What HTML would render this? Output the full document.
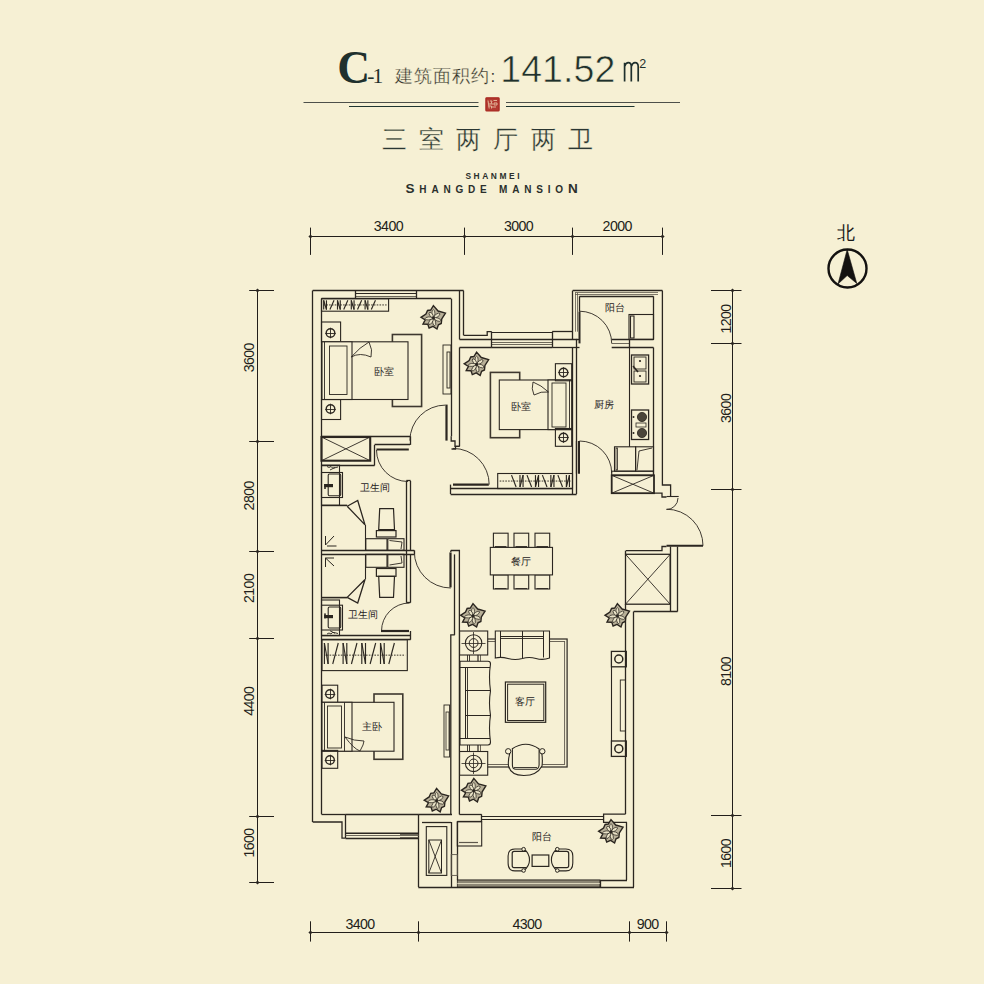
<!DOCTYPE html>
<html><head><meta charset="utf-8"><style>
html,body{margin:0;padding:0;background:#F6F0D4;}
svg{display:block;font-family:"Liberation Sans",sans-serif;}
</style></head><body>
<svg width="984" height="984" viewBox="0 0 984 984">
<rect width="984" height="984" fill="#F6F0D4"/>
<text x="337.2" y="83" font-family="Liberation Serif" font-size="45.5" fill="#1f302d" text-anchor="start" font-weight="bold">C</text>
<text x="367.3" y="82.5" font-family="Liberation Serif" font-size="21.5" fill="#1f302d" text-anchor="start" >-</text>
<text x="372.6" y="82.5" font-family="Liberation Serif" font-size="21.5" fill="#1f302d" text-anchor="start" >1</text>
<text x="395" y="81.6" font-family="Liberation Sans" font-size="17.5" fill="#2e2e2a" text-anchor="start" letter-spacing="1" stroke="#F6F0D4" stroke-width="0.3">建筑面积约</text>
<text x="490.5" y="81.6" font-family="Liberation Sans" font-size="17" fill="#3a3a35" text-anchor="start" font-weight="300">:</text>
<text x="500.2" y="81.6" font-family="Liberation Sans" font-size="37.5" fill="#1f302d" text-anchor="start" letter-spacing="0.1" stroke="#F6F0D4" stroke-width="0.6">141.52</text>
<path d="M624.6,81.6 V62.8 M624.6,66.5 Q625.8,62.6 628.3,62.6 Q631.3,62.6 631.3,66.5 V81.6 M631.3,66.5 Q632.5,62.6 635,62.6 Q638.2,62.6 638.2,66.5 V81.6" fill="none" stroke="#1f302d" stroke-width="1.7"/>
<text x="639.3" y="67.6" font-family="Liberation Sans" font-size="12.5" fill="#1f302d" text-anchor="start" >2</text>
<rect x="485.9" y="97.8" width="13.2" height="13.2" rx="0.8" fill="#b23a30" stroke="#a8261f" stroke-width="1.2"/>
<path d="M488,100.5 l1.2,8 M490,101 h2 l-1,3 h2 M493.5,100.5 h3.5 M494,103 h3 v2 h-3z M488.5,106 h3 v2.5 M492,107 h4 M489,104 h2" fill="none" stroke="#e6bfa0" stroke-width="0.9"/>
<line x1="303.5" y1="102.5" x2="478.5" y2="102.5" stroke="#4d504a" stroke-width="1.2"/>
<line x1="506" y1="102.5" x2="680" y2="102.5" stroke="#4d504a" stroke-width="1.2"/>
<line x1="349" y1="106.5" x2="478.5" y2="106.5" stroke="#1f3530" stroke-width="1.2"/>
<line x1="506" y1="106.5" x2="634.5" y2="106.5" stroke="#1f3530" stroke-width="1.2"/>
<text x="493.5" y="148.4" font-family="Liberation Sans" font-size="24.5" fill="#2a3633" text-anchor="middle" letter-spacing="12.2" stroke="#F6F0D4" stroke-width="0.3">三室两厅两卫</text>
<text x="493.8" y="179.2" font-family="Liberation Sans" font-size="8.4" fill="#2a2f2c" text-anchor="middle" font-weight="bold" letter-spacing="2.6">SHANMEI</text>
<text x="494" y="193.3" font-family="Liberation Sans" font-size="10" fill="#2a2f2c" text-anchor="middle" font-weight="bold" letter-spacing="4.8"><tspan font-size="13.5">S</tspan>HANGDE MANSIO<tspan font-size="13.5">N</tspan></text>
<text x="846.2" y="238.8" font-family="Liberation Sans" font-size="17.5" fill="#1a1a1a" text-anchor="middle" >北</text>
<circle cx="847.5" cy="268.5" r="19" fill="none" stroke="#141210" stroke-width="2.4"/>
<polygon points="847.2,249.5 838,284 847.2,275.5 856.8,283.5" fill="#141210" stroke="#141210" stroke-width="0.6"/>
<line x1="310.3" y1="236.5" x2="662" y2="236.5" stroke="#221e1a" stroke-width="1.0"/>
<line x1="310.5" y1="227.6" x2="310.5" y2="254.9" stroke="#221e1a" stroke-width="1.0"/>
<polygon points="308.4,236.5 310.5,234.4 312.6,236.5 310.5,238.6" fill="#2b2620"/>
<line x1="464.5" y1="227.6" x2="464.5" y2="254.9" stroke="#221e1a" stroke-width="1.0"/>
<polygon points="462.4,236.5 464.5,234.4 466.6,236.5 464.5,238.6" fill="#2b2620"/>
<line x1="572.5" y1="227.6" x2="572.5" y2="254.9" stroke="#221e1a" stroke-width="1.0"/>
<polygon points="570.4,236.5 572.5,234.4 574.6,236.5 572.5,238.6" fill="#2b2620"/>
<line x1="662.5" y1="227.6" x2="662.5" y2="254.9" stroke="#221e1a" stroke-width="1.0"/>
<polygon points="660.4,236.5 662.5,234.4 664.6,236.5 662.5,238.6" fill="#2b2620"/>
<text x="388.4" y="231.3" font-family="Liberation Sans" font-size="14.2" fill="#221e1a" text-anchor="middle" letter-spacing="-0.6">3400</text>
<text x="518.5" y="231.3" font-family="Liberation Sans" font-size="14.2" fill="#221e1a" text-anchor="middle" letter-spacing="-0.6">3000</text>
<text x="617.2" y="231.3" font-family="Liberation Sans" font-size="14.2" fill="#221e1a" text-anchor="middle" letter-spacing="-0.6">2000</text>
<line x1="310.3" y1="932.5" x2="666" y2="932.5" stroke="#221e1a" stroke-width="1.0"/>
<line x1="310.5" y1="921.3" x2="310.5" y2="941.6" stroke="#221e1a" stroke-width="1.0"/>
<polygon points="308.4,932.5 310.5,930.4 312.6,932.5 310.5,934.6" fill="#2b2620"/>
<line x1="418.5" y1="921.3" x2="418.5" y2="941.6" stroke="#221e1a" stroke-width="1.0"/>
<polygon points="416.4,932.5 418.5,930.4 420.6,932.5 418.5,934.6" fill="#2b2620"/>
<line x1="629.5" y1="921.3" x2="629.5" y2="941.6" stroke="#221e1a" stroke-width="1.0"/>
<polygon points="627.4,932.5 629.5,930.4 631.6,932.5 629.5,934.6" fill="#2b2620"/>
<line x1="666.5" y1="921.3" x2="666.5" y2="941.6" stroke="#221e1a" stroke-width="1.0"/>
<polygon points="664.4,932.5 666.5,930.4 668.6,932.5 666.5,934.6" fill="#2b2620"/>
<text x="360" y="929.3" font-family="Liberation Sans" font-size="14.2" fill="#221e1a" text-anchor="middle" letter-spacing="-0.6">3400</text>
<text x="527" y="929.3" font-family="Liberation Sans" font-size="14.2" fill="#221e1a" text-anchor="middle" letter-spacing="-0.6">4300</text>
<text x="647.7" y="929.3" font-family="Liberation Sans" font-size="14.2" fill="#221e1a" text-anchor="middle" letter-spacing="-0.6">900</text>
<line x1="257.5" y1="290.6" x2="257.5" y2="882.2" stroke="#221e1a" stroke-width="1.0"/>
<line x1="249.2" y1="290.5" x2="274" y2="290.5" stroke="#221e1a" stroke-width="1.0"/>
<polygon points="255.4,290.5 257.5,288.4 259.6,290.5 257.5,292.6" fill="#2b2620"/>
<line x1="249.2" y1="441.5" x2="274" y2="441.5" stroke="#221e1a" stroke-width="1.0"/>
<polygon points="255.4,441.5 257.5,439.4 259.6,441.5 257.5,443.6" fill="#2b2620"/>
<line x1="249.2" y1="551.5" x2="274" y2="551.5" stroke="#221e1a" stroke-width="1.0"/>
<polygon points="255.4,551.5 257.5,549.4 259.6,551.5 257.5,553.6" fill="#2b2620"/>
<line x1="249.2" y1="638.5" x2="274" y2="638.5" stroke="#221e1a" stroke-width="1.0"/>
<polygon points="255.4,638.5 257.5,636.4 259.6,638.5 257.5,640.6" fill="#2b2620"/>
<line x1="249.2" y1="816.5" x2="274" y2="816.5" stroke="#221e1a" stroke-width="1.0"/>
<polygon points="255.4,816.5 257.5,814.4 259.6,816.5 257.5,818.6" fill="#2b2620"/>
<line x1="249.2" y1="882.5" x2="274" y2="882.5" stroke="#221e1a" stroke-width="1.0"/>
<polygon points="255.4,882.5 257.5,880.4 259.6,882.5 257.5,884.6" fill="#2b2620"/>
<text transform="translate(254.2 357.7) rotate(-90)" x="0" y="0" font-family="Liberation Sans" font-size="14.2" fill="#221e1a" text-anchor="middle" letter-spacing="-0.6">3600</text>
<text transform="translate(254.2 495.8) rotate(-90)" x="0" y="0" font-family="Liberation Sans" font-size="14.2" fill="#221e1a" text-anchor="middle" letter-spacing="-0.6">2800</text>
<text transform="translate(254.2 588.4) rotate(-90)" x="0" y="0" font-family="Liberation Sans" font-size="14.2" fill="#221e1a" text-anchor="middle" letter-spacing="-0.6">2100</text>
<text transform="translate(254.2 701.2) rotate(-90)" x="0" y="0" font-family="Liberation Sans" font-size="14.2" fill="#221e1a" text-anchor="middle" letter-spacing="-0.6">4400</text>
<text transform="translate(254.2 843) rotate(-90)" x="0" y="0" font-family="Liberation Sans" font-size="14.2" fill="#221e1a" text-anchor="middle" letter-spacing="-0.6">1600</text>
<line x1="732.5" y1="290.5" x2="732.5" y2="888.5" stroke="#221e1a" stroke-width="1.0"/>
<line x1="711" y1="290.5" x2="741.5" y2="290.5" stroke="#221e1a" stroke-width="1.0"/>
<polygon points="730.4,290.5 732.5,288.4 734.6,290.5 732.5,292.6" fill="#2b2620"/>
<line x1="711" y1="343.5" x2="741.5" y2="343.5" stroke="#221e1a" stroke-width="1.0"/>
<polygon points="730.4,343.5 732.5,341.4 734.6,343.5 732.5,345.6" fill="#2b2620"/>
<line x1="711" y1="489.5" x2="741.5" y2="489.5" stroke="#221e1a" stroke-width="1.0"/>
<polygon points="730.4,489.5 732.5,487.4 734.6,489.5 732.5,491.6" fill="#2b2620"/>
<line x1="711" y1="815.5" x2="741.5" y2="815.5" stroke="#221e1a" stroke-width="1.0"/>
<polygon points="730.4,815.5 732.5,813.4 734.6,815.5 732.5,817.6" fill="#2b2620"/>
<line x1="711" y1="888.5" x2="741.5" y2="888.5" stroke="#221e1a" stroke-width="1.0"/>
<polygon points="730.4,888.5 732.5,886.4 734.6,888.5 732.5,890.6" fill="#2b2620"/>
<text transform="translate(730.5 319) rotate(-90)" x="0" y="0" font-family="Liberation Sans" font-size="14.2" fill="#221e1a" text-anchor="middle" letter-spacing="-0.6">1200</text>
<text transform="translate(730.5 408.4) rotate(-90)" x="0" y="0" font-family="Liberation Sans" font-size="14.2" fill="#221e1a" text-anchor="middle" letter-spacing="-0.6">3600</text>
<text transform="translate(730.5 671.5) rotate(-90)" x="0" y="0" font-family="Liberation Sans" font-size="14.2" fill="#221e1a" text-anchor="middle" letter-spacing="-0.6">8100</text>
<text transform="translate(730.5 853.5) rotate(-90)" x="0" y="0" font-family="Liberation Sans" font-size="14.2" fill="#221e1a" text-anchor="middle" letter-spacing="-0.6">1600</text>
<line x1="312.5" y1="290.6" x2="312.5" y2="822" stroke="#2b2620" stroke-width="1.3"/>
<line x1="321.5" y1="298.7" x2="321.5" y2="814.3" stroke="#2b2620" stroke-width="1.3"/>
<line x1="312.7" y1="290.5" x2="463.6" y2="290.5" stroke="#2b2620" stroke-width="1.3"/>
<line x1="321.5" y1="298.5" x2="451.2" y2="298.5" stroke="#2b2620" stroke-width="1.3"/>
<line x1="355.3" y1="293.5" x2="416.7" y2="293.5" stroke="#2b2620" stroke-width="1.1"/>
<line x1="355.3" y1="296.5" x2="416.7" y2="296.5" stroke="#5e584c" stroke-width="0.9"/>
<line x1="355.5" y1="290.6" x2="355.5" y2="298.7" stroke="#2b2620" stroke-width="1.3"/>
<line x1="416.5" y1="290.6" x2="416.5" y2="298.7" stroke="#2b2620" stroke-width="1.3"/>
<line x1="451.5" y1="298.7" x2="451.5" y2="436.3" stroke="#2b2620" stroke-width="1.3"/>
<line x1="459.5" y1="290.6" x2="459.5" y2="339.4" stroke="#2b2620" stroke-width="1.3"/>
<line x1="463.5" y1="290.6" x2="463.5" y2="335.3" stroke="#2b2620" stroke-width="1.3"/>
<line x1="459.5" y1="347.5" x2="459.5" y2="446.3" stroke="#2b2620" stroke-width="1.3"/>
<line x1="321.5" y1="436.5" x2="410" y2="436.5" stroke="#2b2620" stroke-width="1.3"/>
<line x1="374.6" y1="444.5" x2="410" y2="444.5" stroke="#2b2620" stroke-width="1.3"/>
<line x1="410.5" y1="436.3" x2="410.5" y2="444.9" stroke="#2b2620" stroke-width="1.3"/>
<line x1="374.5" y1="444.9" x2="374.5" y2="465.5" stroke="#2b2620" stroke-width="1.3"/>
<line x1="321.5" y1="465.5" x2="374.6" y2="465.5" stroke="#2b2620" stroke-width="1.3"/>
<rect x="321.5" y="437" width="48.70" height="23.70" fill="none" stroke="#2b2620" stroke-width="2.1"/>
<line x1="321.5" y1="437" x2="370.2" y2="460.7" stroke="#2b2620" stroke-width="0.9"/>
<line x1="321.5" y1="460.7" x2="370.2" y2="437" stroke="#2b2620" stroke-width="0.9"/>
<line x1="446.5" y1="404.6" x2="446.5" y2="440.6" stroke="#2b2620" stroke-width="2.2"/>
<path d="M445.40,405.10 A35.5,35.5 0 0 0 409.90,440.60" fill="none" stroke="#2b2620" stroke-width="0.9"/>
<polyline points="451.2,436.3 451.2,441 455,441 455,446.3 459.5,446.3" fill="none" stroke="#2b2620" stroke-width="1.3"/>
<line x1="376.5" y1="449.5" x2="408.8" y2="449.5" stroke="#2b2620" stroke-width="2.2"/>
<path d="M376.50,450.00 A31.5,31.5 0 0 0 408.00,481.50" fill="none" stroke="#2b2620" stroke-width="0.9"/>
<line x1="406.5" y1="480.9" x2="406.5" y2="602.6" stroke="#2b2620" stroke-width="1.3"/>
<line x1="410.5" y1="480.9" x2="410.5" y2="550.5" stroke="#2b2620" stroke-width="1.3"/>
<line x1="410.5" y1="554.4" x2="410.5" y2="602.6" stroke="#2b2620" stroke-width="1.3"/>
<line x1="406.3" y1="480.5" x2="410.6" y2="480.5" stroke="#2b2620" stroke-width="1.3"/>
<line x1="321.5" y1="550.5" x2="414.3" y2="550.5" stroke="#2b2620" stroke-width="1.3"/>
<line x1="321.5" y1="554.5" x2="414.3" y2="554.5" stroke="#2b2620" stroke-width="1.3"/>
<line x1="414.5" y1="550.3" x2="414.5" y2="554.3" stroke="#2b2620" stroke-width="1.3"/>
<line x1="450.5" y1="552.4" x2="450.5" y2="587.4" stroke="#2b2620" stroke-width="2.2"/>
<path d="M450.80,588.00 A36.5,36.5 0 0 1 414.30,551.50" fill="none" stroke="#2b2620" stroke-width="0.9"/>
<polyline points="450.8,550.5 459.4,550.5 459.4,814.6" fill="none" stroke="#2b2620" stroke-width="1.3"/>
<polyline points="450.8,552 450.8,550.5" fill="none" stroke="#2b2620" stroke-width="1.3"/>
<line x1="454.5" y1="554.4" x2="454.5" y2="634.9" stroke="#2b2620" stroke-width="1.3"/>
<polyline points="454.8,634.9 450.8,634.9 450.8,814.3" fill="none" stroke="#2b2620" stroke-width="1.3"/>
<line x1="381" y1="631" x2="409" y2="631" stroke="#2b2620" stroke-width="2.2"/>
<path d="M381.50,631.00 A28,28 0 0 1 409.50,603.00" fill="none" stroke="#2b2620" stroke-width="0.9"/>
<line x1="406.3" y1="602.5" x2="410.6" y2="602.5" stroke="#2b2620" stroke-width="1.3"/>
<line x1="410.5" y1="631" x2="410.5" y2="639.7" stroke="#2b2620" stroke-width="1.3"/>
<line x1="321.5" y1="635.5" x2="410.6" y2="635.5" stroke="#2b2620" stroke-width="1.3"/>
<line x1="321.5" y1="639.5" x2="410.6" y2="639.5" stroke="#2b2620" stroke-width="1.3"/>
<line x1="321.5" y1="814.5" x2="345.5" y2="814.5" stroke="#2b2620" stroke-width="1.3"/>
<line x1="418.7" y1="814.5" x2="452" y2="814.5" stroke="#2b2620" stroke-width="1.3"/>
<polyline points="312.7,822 342,822 342,838.2 345.5,838.2" fill="none" stroke="#2b2620" stroke-width="1.3"/>
<line x1="345.5" y1="814.3" x2="345.5" y2="838.2" stroke="#2b2620" stroke-width="1.3"/>
<line x1="418.5" y1="814.3" x2="418.5" y2="838.2" stroke="#2b2620" stroke-width="1.3"/>
<line x1="345.5" y1="833.3" x2="418.7" y2="833.3" stroke="#2b2620" stroke-width="1.6"/>
<line x1="345.5" y1="835.5" x2="418.7" y2="835.5" stroke="#5e584c" stroke-width="0.9"/>
<line x1="345.5" y1="838.5" x2="418.7" y2="838.5" stroke="#2b2620" stroke-width="1.3"/>
<line x1="400" y1="834.5" x2="418.3" y2="834.5" stroke="#5e584c" stroke-width="0.9"/>
<line x1="400" y1="837.5" x2="418.3" y2="837.5" stroke="#5e584c" stroke-width="0.9"/>
<line x1="345.5" y1="814.5" x2="418.7" y2="814.5" stroke="#2b2620" stroke-width="1.3"/>
<line x1="418.5" y1="838" x2="418.5" y2="887" stroke="#2b2620" stroke-width="1.3"/>
<line x1="418.3" y1="887.5" x2="634" y2="887.5" stroke="#2b2620" stroke-width="1.3"/>
<line x1="451.5" y1="822" x2="451.5" y2="887" stroke="#2b2620" stroke-width="1.3"/>
<line x1="422" y1="822.5" x2="451.2" y2="822.5" stroke="#2b2620" stroke-width="1.3"/>
<line x1="457.5" y1="821.7" x2="457.5" y2="880" stroke="#2b2620" stroke-width="1.3"/>
<rect x="426.3" y="826.6" width="20.50" height="48.80" fill="none" stroke="#2b2620" stroke-width="1.1"/>
<rect x="428.8" y="840" width="12.70" height="33.00" fill="none" stroke="#2b2620" stroke-width="1.0"/>
<line x1="428.8" y1="840" x2="441.5" y2="873" stroke="#2b2620" stroke-width="0.9"/>
<line x1="428.8" y1="873" x2="441.5" y2="840" stroke="#2b2620" stroke-width="0.9"/>
<rect x="451.2" y="854.6" width="6.10" height="20.80" fill="none" stroke="#5e584c" stroke-width="0.9"/>
<line x1="459.4" y1="814.5" x2="481.7" y2="814.5" stroke="#2b2620" stroke-width="1.3"/>
<line x1="457.3" y1="821.5" x2="481.7" y2="821.5" stroke="#2b2620" stroke-width="1.3"/>
<line x1="457.3" y1="880.5" x2="627" y2="880.5" stroke="#2b2620" stroke-width="1.3"/>
<rect x="457.3" y="880" width="142.70" height="7.00" fill="#8c8674" stroke="#2b2620" stroke-width="0.8"/>
<line x1="457.3" y1="883.5" x2="600" y2="883.5" stroke="#efe8cc" stroke-width="0.8"/>
<line x1="600.5" y1="880" x2="600.5" y2="887" stroke="#2b2620" stroke-width="1.3"/>
<line x1="626.5" y1="822.3" x2="626.5" y2="880" stroke="#2b2620" stroke-width="1.3"/>
<line x1="633.5" y1="611.5" x2="633.5" y2="887" stroke="#2b2620" stroke-width="1.3"/>
<line x1="625.5" y1="604.2" x2="625.5" y2="814.1" stroke="#2b2620" stroke-width="1.3"/>
<polyline points="625.5,814.1 603.6,814.1 603.6,822.3 627,822.3" fill="none" stroke="#2b2620" stroke-width="1.3"/>
<line x1="481.7" y1="816.5" x2="603.7" y2="816.5" stroke="#2b2620" stroke-width="1.1"/>
<line x1="481.7" y1="819.5" x2="603.7" y2="819.5" stroke="#2b2620" stroke-width="1.1"/>
<line x1="481.5" y1="814.4" x2="481.5" y2="821.7" stroke="#2b2620" stroke-width="1.3"/>
<rect x="625.5" y="554.3" width="44.70" height="49.90" fill="none" stroke="#2b2620" stroke-width="1.3"/>
<line x1="625.5" y1="554.3" x2="670.2" y2="604.2" stroke="#2b2620" stroke-width="0.9"/>
<line x1="625.5" y1="604.2" x2="670.2" y2="554.3" stroke="#2b2620" stroke-width="0.9"/>
<polyline points="654,493.2 662,493.2 662,497 666.5,497" fill="none" stroke="#2b2620" stroke-width="1.3"/>
<polyline points="626,550.6 662,550.6 662,546.5 666.5,546.5" fill="none" stroke="#2b2620" stroke-width="1.3"/>
<line x1="670.5" y1="546.5" x2="670.5" y2="611.5" stroke="#2b2620" stroke-width="1.3"/>
<line x1="677.5" y1="546.5" x2="677.5" y2="611.5" stroke="#2b2620" stroke-width="1.3"/>
<line x1="633.7" y1="611.5" x2="677.6" y2="611.5" stroke="#2b2620" stroke-width="1.3"/>
<line x1="625.5" y1="550.6" x2="625.5" y2="554.3" stroke="#2b2620" stroke-width="1.3"/>
<line x1="666.5" y1="545.7" x2="703" y2="545.7" stroke="#2b2620" stroke-width="2.0"/>
<path d="M666.50,509.20 A36.5,36.5 0 0 1 703.00,545.70" fill="none" stroke="#2b2620" stroke-width="0.9"/>
<path d="M678.00,498.00 A11.5,11.5 0 0 1 666.50,509.50" fill="none" stroke="#2b2620" stroke-width="0.9"/>
<line x1="666.5" y1="496.5" x2="678.7" y2="496.5" stroke="#2b2620" stroke-width="1.1"/>
<polyline points="662.4,290.6 662.4,485 670.6,485 670.6,496.4" fill="none" stroke="#2b2620" stroke-width="1.3"/>
<line x1="653.5" y1="347.5" x2="653.5" y2="475.3" stroke="#2b2620" stroke-width="1.3"/>
<line x1="572.5" y1="347.5" x2="572.5" y2="494" stroke="#2b2620" stroke-width="1.3"/>
<line x1="450.6" y1="488.5" x2="572.5" y2="488.5" stroke="#2b2620" stroke-width="1.3"/>
<line x1="450.6" y1="494.5" x2="576.6" y2="494.5" stroke="#2b2620" stroke-width="1.3"/>
<line x1="450.5" y1="484.6" x2="450.5" y2="494" stroke="#2b2620" stroke-width="1.3"/>
<line x1="576.5" y1="339.4" x2="576.5" y2="494" stroke="#2b2620" stroke-width="1.3"/>
<polyline points="463.6,335.3 487.2,335.3 487.2,331.7 491.7,331.7" fill="none" stroke="#2b2620" stroke-width="1.3"/>
<line x1="459.5" y1="339.5" x2="577.4" y2="339.5" stroke="#2b2620" stroke-width="1.3"/>
<line x1="459.5" y1="347.5" x2="491.7" y2="347.5" stroke="#2b2620" stroke-width="1.3"/>
<line x1="552.2" y1="347.5" x2="576.3" y2="347.5" stroke="#2b2620" stroke-width="1.3"/>
<line x1="491.7" y1="332.5" x2="552.2" y2="332.5" stroke="#2b2620" stroke-width="1.1"/>
<line x1="491.7" y1="342.5" x2="552.2" y2="342.5" stroke="#5e584c" stroke-width="0.9"/>
<line x1="491.7" y1="344.5" x2="552.2" y2="344.5" stroke="#5e584c" stroke-width="0.9"/>
<line x1="491.7" y1="347.5" x2="552.2" y2="347.5" stroke="#2b2620" stroke-width="1.3"/>
<line x1="491.5" y1="331.7" x2="491.5" y2="347.5" stroke="#2b2620" stroke-width="1.3"/>
<line x1="552.5" y1="331.7" x2="552.5" y2="347.5" stroke="#2b2620" stroke-width="1.3"/>
<line x1="552.2" y1="331.5" x2="572.7" y2="331.5" stroke="#2b2620" stroke-width="1.3"/>
<line x1="572.5" y1="290.6" x2="572.5" y2="339.4" stroke="#2b2620" stroke-width="1.3"/>
<line x1="572.7" y1="290.5" x2="662.4" y2="290.5" stroke="#2b2620" stroke-width="1.3"/>
<line x1="579.5" y1="296.5" x2="653.5" y2="296.5" stroke="#2b2620" stroke-width="1.3"/>
<line x1="653.5" y1="296.3" x2="653.5" y2="339.4" stroke="#2b2620" stroke-width="1.3"/>
<line x1="575.5" y1="292.6" x2="575.5" y2="331.7" stroke="#5e584c" stroke-width="0.8"/>
<line x1="577.5" y1="292.6" x2="577.5" y2="331.7" stroke="#5e584c" stroke-width="0.8"/>
<line x1="575" y1="292.5" x2="658" y2="292.5" stroke="#5e584c" stroke-width="0.8"/>
<line x1="575" y1="294.5" x2="658" y2="294.5" stroke="#5e584c" stroke-width="0.8"/>
<line x1="579.5" y1="296.3" x2="579.5" y2="311.7" stroke="#2b2620" stroke-width="1.3"/>
<line x1="611.7" y1="339.5" x2="653.5" y2="339.5" stroke="#2b2620" stroke-width="1.3"/>
<line x1="611.7" y1="347.5" x2="653.5" y2="347.5" stroke="#2b2620" stroke-width="1.3"/>
<line x1="611.7" y1="343.5" x2="629" y2="343.5" stroke="#5e584c" stroke-width="0.9"/>
<line x1="629.5" y1="339.4" x2="629.5" y2="347.5" stroke="#2b2620" stroke-width="1.3"/>
<line x1="579.5" y1="311.7" x2="579.5" y2="343.4" stroke="#2b2620" stroke-width="2.0"/>
<path d="M579.50,311.20 A32.2,32.2 0 0 1 611.70,343.40" fill="none" stroke="#2b2620" stroke-width="0.9"/>
<line x1="576.3" y1="339.5" x2="579.5" y2="339.5" stroke="#2b2620" stroke-width="1.3"/>
<line x1="576.3" y1="347.5" x2="579.5" y2="347.5" stroke="#2b2620" stroke-width="1.3"/>
<line x1="453" y1="484.6" x2="488.8" y2="484.6" stroke="#2b2620" stroke-width="2.2"/>
<path d="M453.00,448.40 A36.2,36.2 0 0 1 489.20,484.60" fill="none" stroke="#2b2620" stroke-width="0.9"/>
<polyline points="459.5,446.3 455.5,446.3 455.5,449 451.5,449" fill="none" stroke="#2b2620" stroke-width="1.3"/>
<line x1="579" y1="441" x2="579" y2="473.7" stroke="#2b2620" stroke-width="2.0"/>
<path d="M579.50,441.00 A32.2,32.2 0 0 1 611.70,473.20" fill="none" stroke="#2b2620" stroke-width="0.9"/>
<line x1="576.5" y1="441" x2="576.5" y2="473.7" stroke="#2b2620" stroke-width="1.3"/>
<rect x="321.5" y="298.7" width="67.10" height="12.50" fill="none" stroke="#2b2620" stroke-width="1.1"/>
<line x1="323.5" y1="304.95" x2="386.6" y2="304.95" stroke="#3a342c" stroke-width="1" stroke-dasharray="1.6,1.2"/>
<line x1="323.70" y1="300.30" x2="323.70" y2="309.60" stroke="#2b2620" stroke-width="1.15"/>
<line x1="323.70" y1="300.30" x2="326.46" y2="309.60" stroke="#2b2620" stroke-width="1.15"/>
<line x1="326.46" y1="300.30" x2="326.46" y2="309.60" stroke="#2b2620" stroke-width="1.15"/>
<line x1="329.91" y1="309.60" x2="334.05" y2="300.30" stroke="#2b2620" stroke-width="1.15"/>
<line x1="337.50" y1="300.30" x2="337.50" y2="309.60" stroke="#2b2620" stroke-width="1.15"/>
<line x1="337.50" y1="300.30" x2="340.26" y2="309.60" stroke="#2b2620" stroke-width="1.15"/>
<line x1="340.26" y1="300.30" x2="340.26" y2="309.60" stroke="#2b2620" stroke-width="1.15"/>
<line x1="343.71" y1="309.60" x2="347.85" y2="300.30" stroke="#2b2620" stroke-width="1.15"/>
<line x1="351.30" y1="300.30" x2="351.30" y2="309.60" stroke="#2b2620" stroke-width="1.15"/>
<line x1="351.30" y1="300.30" x2="354.06" y2="309.60" stroke="#2b2620" stroke-width="1.15"/>
<line x1="354.06" y1="300.30" x2="354.06" y2="309.60" stroke="#2b2620" stroke-width="1.15"/>
<line x1="357.51" y1="309.60" x2="361.65" y2="300.30" stroke="#2b2620" stroke-width="1.15"/>
<line x1="365.10" y1="300.30" x2="365.10" y2="309.60" stroke="#2b2620" stroke-width="1.15"/>
<line x1="365.10" y1="300.30" x2="367.86" y2="309.60" stroke="#2b2620" stroke-width="1.15"/>
<line x1="367.86" y1="300.30" x2="367.86" y2="309.60" stroke="#2b2620" stroke-width="1.15"/>
<line x1="371.31" y1="309.60" x2="375.45" y2="300.30" stroke="#2b2620" stroke-width="1.15"/>
<rect x="321.5" y="322" width="19.10" height="20.00" fill="none" stroke="#2b2620" stroke-width="1.1"/>
<circle cx="330.5" cy="333" r="4.3" fill="none" stroke="#2b2620" stroke-width="1.4"/>
<line x1="325.2" y1="333.5" x2="335.8" y2="333.5" stroke="#2b2620" stroke-width="0.9"/>
<line x1="330.5" y1="327.7" x2="330.5" y2="338.3" stroke="#2b2620" stroke-width="0.9"/>
<rect x="321.5" y="399.5" width="19.10" height="20.00" fill="none" stroke="#2b2620" stroke-width="1.1"/>
<circle cx="330.5" cy="409" r="4.3" fill="none" stroke="#2b2620" stroke-width="1.4"/>
<line x1="325.2" y1="409.5" x2="335.8" y2="409.5" stroke="#2b2620" stroke-width="0.9"/>
<line x1="330.5" y1="403.7" x2="330.5" y2="414.3" stroke="#2b2620" stroke-width="0.9"/>
<rect x="392.4" y="334.5" width="29.20" height="72.00" fill="none" stroke="#3e382f" stroke-width="1.6"/>
<rect x="322" y="341.8" width="86.00" height="57.70" fill="#F6F0D4" stroke="#2b2620" stroke-width="1.1"/>
<rect x="322" y="341.8" width="30.00" height="57.70" fill="#F6F0D4" stroke="#2b2620" stroke-width="1.1"/>
<rect x="329.5" y="346" width="17.50" height="48.50" fill="none" stroke="#2b2620" stroke-width="0.9"/>
<line x1="324.5" y1="341.8" x2="324.5" y2="399.5" stroke="#2b2620" stroke-width="0.9"/>
<path d="M351.2,357 Q360,347 369,342 Q373,350 371,357 Q360,352 351.2,357z" fill="none" stroke="#2b2620" stroke-width="0.9"/>
<text x="384" y="375.4" font-family="Liberation Sans, sans-serif" font-size="9.5" fill="#26221d" text-anchor="middle">卧室</text>
<rect x="443" y="345" width="8.00" height="49.00" fill="none" stroke="#2b2620" stroke-width="0.9"/>
<rect x="447" y="352" width="3.00" height="36.00" fill="none" stroke="#2b2620" stroke-width="0.9"/>
<polygon points="433.4,305.6 438.1,311.04 445.45,313.13 441.75,318.95 441.26,323.51 438.4,324.75 436.98,329.03 433.03,326.39 429.1,328.13 427.83,324.29 423.01,324.0 425.23,319.96 421.02,317.35 425.95,314.12 427.55,310.51 430.67,310.06" fill="#b8b098" stroke="#2a251f" stroke-width="1.4"/>
<ellipse cx="433.40" cy="313.32" rx="3.57" ry="1.50" transform="rotate(-90.0 433.40 313.32)" fill="#e9e2c6" stroke="#2a251f" stroke-width="0.7"/>
<ellipse cx="437.00" cy="315.48" rx="3.36" ry="1.50" transform="rotate(-35.0 437.00 315.48)" fill="#e9e2c6" stroke="#2a251f" stroke-width="0.7"/>
<ellipse cx="437.53" cy="319.50" rx="3.36" ry="1.50" transform="rotate(20.0 437.53 319.50)" fill="#e9e2c6" stroke="#2a251f" stroke-width="0.7"/>
<ellipse cx="434.16" cy="322.33" rx="3.36" ry="1.50" transform="rotate(80.0 434.16 322.33)" fill="#e9e2c6" stroke="#2a251f" stroke-width="0.7"/>
<ellipse cx="430.88" cy="321.60" rx="3.36" ry="1.50" transform="rotate(125.0 430.88 321.60)" fill="#e9e2c6" stroke="#2a251f" stroke-width="0.7"/>
<ellipse cx="428.74" cy="318.41" rx="3.57" ry="1.50" transform="rotate(175.0 428.74 318.41)" fill="#e9e2c6" stroke="#2a251f" stroke-width="0.7"/>
<ellipse cx="431.19" cy="314.85" rx="2.94" ry="1.50" transform="rotate(235.0 431.19 314.85)" fill="#e9e2c6" stroke="#2a251f" stroke-width="0.7"/>
<circle cx="433.4" cy="318" r="1.4" fill="#2a251f"/>
<rect x="490.4" y="372.4" width="29.30" height="65.30" fill="none" stroke="#3e382f" stroke-width="1.6"/>
<rect x="499.3" y="380" width="72.40" height="49.60" fill="#F6F0D4" stroke="#2b2620" stroke-width="1.1"/>
<rect x="548" y="380" width="23.70" height="49.60" fill="#F6F0D4" stroke="#2b2620" stroke-width="1.1"/>
<rect x="552" y="383" width="14.00" height="44.00" fill="none" stroke="#2b2620" stroke-width="0.9"/>
<line x1="569.5" y1="380" x2="569.5" y2="429.6" stroke="#2b2620" stroke-width="0.9"/>
<path d="M548.5,392 Q541,385 533,382 Q531,389 534,395 Q541,391 548.5,392z" fill="none" stroke="#2b2620" stroke-width="0.9"/>
<rect x="555.4" y="363.7" width="16.30" height="17.10" fill="none" stroke="#2b2620" stroke-width="1.1"/>
<circle cx="563.5" cy="372.5" r="4.3" fill="none" stroke="#2b2620" stroke-width="1.4"/>
<line x1="558.2" y1="372.5" x2="568.8" y2="372.5" stroke="#2b2620" stroke-width="0.9"/>
<line x1="563.5" y1="367.2" x2="563.5" y2="377.8" stroke="#2b2620" stroke-width="0.9"/>
<rect x="555.4" y="428.5" width="16.30" height="17.80" fill="none" stroke="#2b2620" stroke-width="1.1"/>
<circle cx="563.5" cy="437.5" r="4.3" fill="none" stroke="#2b2620" stroke-width="1.4"/>
<line x1="558.2" y1="437.5" x2="568.8" y2="437.5" stroke="#2b2620" stroke-width="0.9"/>
<line x1="563.5" y1="432.2" x2="563.5" y2="442.8" stroke="#2b2620" stroke-width="0.9"/>
<rect x="497.7" y="473.5" width="74.80" height="15.10" fill="none" stroke="#2b2620" stroke-width="1.1"/>
<line x1="499.7" y1="481.05" x2="570.5" y2="481.05" stroke="#3a342c" stroke-width="1" stroke-dasharray="1.6,1.2"/>
<line x1="523.05" y1="475.10" x2="523.05" y2="487.00" stroke="#2b2620" stroke-width="1.15"/>
<line x1="523.05" y1="475.10" x2="519.97" y2="487.00" stroke="#2b2620" stroke-width="1.15"/>
<line x1="519.97" y1="475.10" x2="519.97" y2="487.00" stroke="#2b2620" stroke-width="1.15"/>
<line x1="516.12" y1="487.00" x2="511.50" y2="475.10" stroke="#2b2620" stroke-width="1.15"/>
<line x1="538.55" y1="475.10" x2="538.55" y2="487.00" stroke="#2b2620" stroke-width="1.15"/>
<line x1="538.55" y1="475.10" x2="535.47" y2="487.00" stroke="#2b2620" stroke-width="1.15"/>
<line x1="535.47" y1="475.10" x2="535.47" y2="487.00" stroke="#2b2620" stroke-width="1.15"/>
<line x1="531.62" y1="487.00" x2="527.00" y2="475.10" stroke="#2b2620" stroke-width="1.15"/>
<line x1="553.95" y1="475.10" x2="553.95" y2="487.00" stroke="#2b2620" stroke-width="1.15"/>
<line x1="553.95" y1="475.10" x2="550.87" y2="487.00" stroke="#2b2620" stroke-width="1.15"/>
<line x1="550.87" y1="475.10" x2="550.87" y2="487.00" stroke="#2b2620" stroke-width="1.15"/>
<line x1="547.02" y1="487.00" x2="542.40" y2="475.10" stroke="#2b2620" stroke-width="1.15"/>
<line x1="569.45" y1="475.10" x2="569.45" y2="487.00" stroke="#2b2620" stroke-width="1.15"/>
<line x1="569.45" y1="475.10" x2="566.37" y2="487.00" stroke="#2b2620" stroke-width="1.15"/>
<line x1="566.37" y1="475.10" x2="566.37" y2="487.00" stroke="#2b2620" stroke-width="1.15"/>
<line x1="562.52" y1="487.00" x2="557.90" y2="475.10" stroke="#2b2620" stroke-width="1.15"/>
<text x="520.8" y="410.2" font-family="Liberation Sans, sans-serif" font-size="9.5" fill="#26221d" text-anchor="middle">卧室</text>
<polygon points="476.6,352.1 481.3,357.54 488.65,359.63 484.95,365.45 484.46,370.01 481.6,371.25 480.18,375.53 476.23,372.89 472.3,374.63 471.03,370.79 466.21,370.5 468.43,366.46 464.22,363.85 469.15,360.62 470.75,357.01 473.87,356.56" fill="#b8b098" stroke="#2a251f" stroke-width="1.4"/>
<ellipse cx="476.60" cy="359.82" rx="3.57" ry="1.50" transform="rotate(-90.0 476.60 359.82)" fill="#e9e2c6" stroke="#2a251f" stroke-width="0.7"/>
<ellipse cx="480.20" cy="361.98" rx="3.36" ry="1.50" transform="rotate(-35.0 480.20 361.98)" fill="#e9e2c6" stroke="#2a251f" stroke-width="0.7"/>
<ellipse cx="480.73" cy="366.00" rx="3.36" ry="1.50" transform="rotate(20.0 480.73 366.00)" fill="#e9e2c6" stroke="#2a251f" stroke-width="0.7"/>
<ellipse cx="477.36" cy="368.83" rx="3.36" ry="1.50" transform="rotate(80.0 477.36 368.83)" fill="#e9e2c6" stroke="#2a251f" stroke-width="0.7"/>
<ellipse cx="474.08" cy="368.10" rx="3.36" ry="1.50" transform="rotate(125.0 474.08 368.10)" fill="#e9e2c6" stroke="#2a251f" stroke-width="0.7"/>
<ellipse cx="471.94" cy="364.91" rx="3.57" ry="1.50" transform="rotate(175.0 471.94 364.91)" fill="#e9e2c6" stroke="#2a251f" stroke-width="0.7"/>
<ellipse cx="474.39" cy="361.35" rx="2.94" ry="1.50" transform="rotate(235.0 474.39 361.35)" fill="#e9e2c6" stroke="#2a251f" stroke-width="0.7"/>
<circle cx="476.6" cy="364.5" r="1.4" fill="#2a251f"/>
<rect x="629" y="314.5" width="24.50" height="24.90" fill="none" stroke="#2b2620" stroke-width="1.1"/>
<rect x="630.5" y="316" width="3.50" height="22.00" fill="none" stroke="#2b2620" stroke-width="1.1"/>
<line x1="629.5" y1="347.5" x2="629.5" y2="446.8" stroke="#2b2620" stroke-width="1.1"/>
<rect x="631.5" y="355" width="17.10" height="29.00" fill="none" stroke="#2b2620" stroke-width="1.3"/>
<rect x="634" y="357" width="12.00" height="12.00" fill="none" stroke="#2b2620" stroke-width="0.9"/>
<rect x="634" y="371" width="12.00" height="11.00" fill="none" stroke="#2b2620" stroke-width="0.9"/>
<circle cx="640" cy="361" r="1.1" fill="#2b2620"/><circle cx="640" cy="376" r="1.1" fill="#2b2620"/>
<line x1="633" y1="366" x2="638" y2="372" stroke="#2b2620" stroke-width="1.5"/>
<rect x="631.5" y="410" width="17.10" height="29.50" fill="none" stroke="#2b2620" stroke-width="1.3"/>
<circle cx="642" cy="417" r="4.6" fill="#4a443a" stroke="#2b2620" stroke-width="0.8"/><circle cx="642" cy="433" r="4.6" fill="#4a443a" stroke="#2b2620" stroke-width="0.8"/>
<rect x="636" y="423" width="10.00" height="4.00" fill="none" stroke="#2b2620" stroke-width="0.8"/>
<circle cx="633.5" cy="417" r="1" fill="#2b2620"/><circle cx="633.5" cy="433" r="1" fill="#2b2620"/>
<rect x="614.5" y="446.8" width="21.10" height="24.40" fill="none" stroke="#2b2620" stroke-width="1.1"/>
<rect x="616" y="448" width="1.60" height="22.00" fill="none" stroke="#2b2620" stroke-width="0.8"/>
<rect x="635.6" y="446.8" width="17.90" height="24.40" fill="none" stroke="#2b2620" stroke-width="1.1"/>
<polyline points="652,448 639,451 637,470" fill="none" stroke="#2b2620" stroke-width="0.9"/>
<rect x="611.7" y="471.2" width="41.80" height="4.10" fill="none" stroke="#2b2620" stroke-width="1.1"/>
<rect x="611.7" y="475.3" width="42.30" height="17.90" fill="none" stroke="#2b2620" stroke-width="1.8"/>
<line x1="611.7" y1="475.3" x2="654" y2="493.2" stroke="#2b2620" stroke-width="0.9"/>
<line x1="611.7" y1="493.2" x2="654" y2="475.3" stroke="#2b2620" stroke-width="0.9"/>
<text x="614.5" y="311.0" font-family="Liberation Sans, sans-serif" font-size="9.5" fill="#26221d" text-anchor="middle">阳台</text>
<text x="604" y="407.8" font-family="Liberation Sans, sans-serif" font-size="9.5" fill="#26221d" text-anchor="middle">厨房</text>
<rect x="321.5" y="465.2" width="18.00" height="40.20" fill="none" stroke="#2b2620" stroke-width="1.1"/>
<rect x="321.5" y="472.5" width="21.00" height="25.00" fill="none" stroke="#2b2620" stroke-width="1.1"/>
<rect x="328.2" y="474" width="12.5" height="21.7" rx="1.2" fill="none" stroke="#2b2620" stroke-width="1.1"/>
<rect x="324.2" y="484" width="8.8" height="3.2" fill="#2b2620"/><rect x="324.2" y="484" width="1.6" height="5" fill="#2b2620"/>
<path d="M327,466.5 q2,2 4,0 q1,2 3,1.5 l4,-1 M330,470 l5,-2.5" fill="none" stroke="#2b2620" stroke-width="0.9"/>
<line x1="321.5" y1="505.4" x2="347.2" y2="505.4" stroke="#2b2620" stroke-width="1.6"/>
<polyline points="347.2,506.2 357.7,500.5 365,524.9 347.2,506.2" fill="none" stroke="#2b2620" stroke-width="1.3"/>
<line x1="365.5" y1="524.9" x2="365.5" y2="550.3" stroke="#2b2620" stroke-width="1.1"/>
<polyline points="327,546 336.5,546" fill="none" stroke="#2b2620" stroke-width="1"/>
<polyline points="325.5,545 334,536" fill="none" stroke="#2b2620" stroke-width="1"/>
<polyline points="325.5,545 325.5,536" fill="none" stroke="#2b2620" stroke-width="1"/>
<polygon points="379.7,508.6 393.5,508.6 394.5,529.5 378.7,529.5" fill="none" stroke="#2b2620" stroke-width="1.2"/>
<rect x="376.4" y="530.6" width="19.60" height="6.40" fill="none" stroke="#2b2620" stroke-width="1.2"/>
<rect x="365.8" y="538.7" width="21.20" height="11.60" fill="none" stroke="#2b2620" stroke-width="1.1"/>
<rect x="387.8" y="538.7" width="16.20" height="11.60" fill="none" stroke="#2b2620" stroke-width="1.1"/>
<polyline points="389.5,540.5 402,542 401,549" fill="none" stroke="#2b2620" stroke-width="0.9"/>
<text x="374.8" y="490.9" font-family="Liberation Sans, sans-serif" font-size="9.5" fill="#26221d" text-anchor="middle">卫生间</text>
<rect x="365.8" y="554.3" width="21.20" height="13.00" fill="none" stroke="#2b2620" stroke-width="1.1"/>
<rect x="387.8" y="554.3" width="16.20" height="13.00" fill="none" stroke="#2b2620" stroke-width="1.1"/>
<polyline points="389.5,565 402,563 401,556" fill="none" stroke="#2b2620" stroke-width="0.9"/>
<rect x="376.4" y="568.5" width="19.60" height="7.80" fill="none" stroke="#2b2620" stroke-width="1.2"/>
<polygon points="379.7,597.4 393.5,597.4 394.5,576.3 378.7,576.3" fill="none" stroke="#2b2620" stroke-width="1.2"/>
<line x1="365.5" y1="554.3" x2="365.5" y2="579.5" stroke="#2b2620" stroke-width="1.1"/>
<polyline points="347.2,597.4 357.7,603 365,579.5 347.2,597.4" fill="none" stroke="#2b2620" stroke-width="1.3"/>
<line x1="321.5" y1="597.6" x2="347.2" y2="597.6" stroke="#2b2620" stroke-width="1.6"/>
<polyline points="325.5,558 334,566" fill="none" stroke="#2b2620" stroke-width="1"/>
<polyline points="325.5,558 325.5,567" fill="none" stroke="#2b2620" stroke-width="1"/>
<polyline points="325.5,558 334,558" fill="none" stroke="#2b2620" stroke-width="1"/>
<rect x="321.5" y="600" width="18.00" height="35.60" fill="none" stroke="#2b2620" stroke-width="1.1"/>
<rect x="321.5" y="605.2" width="21.00" height="24.80" fill="none" stroke="#2b2620" stroke-width="1.1"/>
<rect x="328.2" y="607" width="12.5" height="21" rx="1.2" fill="none" stroke="#2b2620" stroke-width="1.1"/>
<rect x="324.2" y="615" width="8.8" height="3.2" fill="#2b2620"/><rect x="324.2" y="613.4" width="1.6" height="5" fill="#2b2620"/>
<path d="M327,634 q2,-2 4,0 q1,-2 3,-1.5 l4,1 M330,630.8 l5,2.5" fill="none" stroke="#2b2620" stroke-width="0.9"/>
<text x="362.6" y="617.9" font-family="Liberation Sans, sans-serif" font-size="9.5" fill="#26221d" text-anchor="middle">卫生间</text>
<rect x="322" y="639.7" width="85.30" height="30.90" fill="none" stroke="#2b2620" stroke-width="1.1"/>
<line x1="324" y1="655.1500000000001" x2="405.3" y2="655.1500000000001" stroke="#3a342c" stroke-width="1" stroke-dasharray="1.6,1.2"/>
<line x1="324.40" y1="643.00" x2="324.40" y2="664.00" stroke="#2b2620" stroke-width="1.15"/>
<line x1="324.40" y1="643.00" x2="328.10" y2="664.00" stroke="#2b2620" stroke-width="1.15"/>
<line x1="328.10" y1="643.00" x2="328.10" y2="664.00" stroke="#2b2620" stroke-width="1.15"/>
<line x1="332.72" y1="664.00" x2="338.27" y2="643.00" stroke="#2b2620" stroke-width="1.15"/>
<line x1="343.10" y1="643.00" x2="343.10" y2="664.00" stroke="#2b2620" stroke-width="1.15"/>
<line x1="343.10" y1="643.00" x2="346.80" y2="664.00" stroke="#2b2620" stroke-width="1.15"/>
<line x1="346.80" y1="643.00" x2="346.80" y2="664.00" stroke="#2b2620" stroke-width="1.15"/>
<line x1="351.43" y1="664.00" x2="356.98" y2="643.00" stroke="#2b2620" stroke-width="1.15"/>
<line x1="361.80" y1="643.00" x2="361.80" y2="664.00" stroke="#2b2620" stroke-width="1.15"/>
<line x1="361.80" y1="643.00" x2="365.50" y2="664.00" stroke="#2b2620" stroke-width="1.15"/>
<line x1="365.50" y1="643.00" x2="365.50" y2="664.00" stroke="#2b2620" stroke-width="1.15"/>
<line x1="370.12" y1="664.00" x2="375.68" y2="643.00" stroke="#2b2620" stroke-width="1.15"/>
<line x1="380.50" y1="643.00" x2="380.50" y2="664.00" stroke="#2b2620" stroke-width="1.15"/>
<line x1="380.50" y1="643.00" x2="384.20" y2="664.00" stroke="#2b2620" stroke-width="1.15"/>
<line x1="384.20" y1="643.00" x2="384.20" y2="664.00" stroke="#2b2620" stroke-width="1.15"/>
<line x1="388.82" y1="664.00" x2="394.38" y2="643.00" stroke="#2b2620" stroke-width="1.15"/>
<rect x="322" y="685.2" width="15.70" height="17.80" fill="none" stroke="#2b2620" stroke-width="1.1"/>
<circle cx="330" cy="694" r="4.3" fill="none" stroke="#2b2620" stroke-width="1.4"/>
<line x1="324.7" y1="694.5" x2="335.3" y2="694.5" stroke="#2b2620" stroke-width="0.9"/>
<line x1="330.5" y1="688.7" x2="330.5" y2="699.3" stroke="#2b2620" stroke-width="0.9"/>
<rect x="374" y="694" width="28.80" height="65.30" fill="none" stroke="#3e382f" stroke-width="1.6"/>
<rect x="322" y="702.3" width="72.00" height="48.90" fill="#F6F0D4" stroke="#2b2620" stroke-width="1.1"/>
<rect x="322" y="702.3" width="30.00" height="48.90" fill="#F6F0D4" stroke="#2b2620" stroke-width="1.1"/>
<rect x="327.5" y="706" width="14.00" height="42.00" fill="none" stroke="#2b2620" stroke-width="0.9"/>
<line x1="324.5" y1="702.3" x2="324.5" y2="751.2" stroke="#2b2620" stroke-width="0.9"/>
<line x1="344.5" y1="702.3" x2="344.5" y2="751.2" stroke="#2b2620" stroke-width="0.9"/>
<path d="M345,737 Q354,749 360,751 Q364,744 364,741 Q354,741 345,737z" fill="none" stroke="#2b2620" stroke-width="0.9"/>
<rect x="322" y="750.4" width="15.70" height="17.90" fill="none" stroke="#2b2620" stroke-width="1.1"/>
<circle cx="330" cy="760" r="4.3" fill="none" stroke="#2b2620" stroke-width="1.4"/>
<line x1="324.7" y1="760.5" x2="335.3" y2="760.5" stroke="#2b2620" stroke-width="0.9"/>
<line x1="330.5" y1="754.7" x2="330.5" y2="765.3" stroke="#2b2620" stroke-width="0.9"/>
<text x="372.4" y="730.2" font-family="Liberation Sans, sans-serif" font-size="9.5" fill="#26221d" text-anchor="middle">主卧</text>
<rect x="444" y="705" width="5.60" height="52.00" fill="none" stroke="#2b2620" stroke-width="0.9"/>
<rect x="446" y="712" width="3.00" height="38.00" fill="none" stroke="#2b2620" stroke-width="0.8"/>
<polygon points="436.6,788.4 441.3,793.84 448.65,795.93 444.95,801.75 444.46,806.31 441.6,807.55 440.18,811.83 436.23,809.19 432.3,810.93 431.03,807.09 426.21,806.8 428.43,802.76 424.22,800.15 429.15,796.92 430.75,793.31 433.87,792.86" fill="#b8b098" stroke="#2a251f" stroke-width="1.4"/>
<ellipse cx="436.60" cy="796.12" rx="3.57" ry="1.50" transform="rotate(-90.0 436.60 796.12)" fill="#e9e2c6" stroke="#2a251f" stroke-width="0.7"/>
<ellipse cx="440.20" cy="798.28" rx="3.36" ry="1.50" transform="rotate(-35.0 440.20 798.28)" fill="#e9e2c6" stroke="#2a251f" stroke-width="0.7"/>
<ellipse cx="440.73" cy="802.30" rx="3.36" ry="1.50" transform="rotate(20.0 440.73 802.30)" fill="#e9e2c6" stroke="#2a251f" stroke-width="0.7"/>
<ellipse cx="437.36" cy="805.13" rx="3.36" ry="1.50" transform="rotate(80.0 437.36 805.13)" fill="#e9e2c6" stroke="#2a251f" stroke-width="0.7"/>
<ellipse cx="434.08" cy="804.40" rx="3.36" ry="1.50" transform="rotate(125.0 434.08 804.40)" fill="#e9e2c6" stroke="#2a251f" stroke-width="0.7"/>
<ellipse cx="431.94" cy="801.21" rx="3.57" ry="1.50" transform="rotate(175.0 431.94 801.21)" fill="#e9e2c6" stroke="#2a251f" stroke-width="0.7"/>
<ellipse cx="434.39" cy="797.65" rx="2.94" ry="1.50" transform="rotate(235.0 434.39 797.65)" fill="#e9e2c6" stroke="#2a251f" stroke-width="0.7"/>
<circle cx="436.6" cy="800.8" r="1.4" fill="#2a251f"/>
<rect x="493.4" y="533.2" width="14.70" height="14.20" fill="none" stroke="#2b2620" stroke-width="1.1"/>
<line x1="494.9" y1="546.5" x2="506.4" y2="546.5" stroke="#2b2620" stroke-width="0.9"/>
<rect x="493.4" y="574.9" width="14.70" height="14.10" fill="none" stroke="#2b2620" stroke-width="1.1"/>
<line x1="494.9" y1="588.5" x2="506.4" y2="588.5" stroke="#2b2620" stroke-width="0.9"/>
<rect x="514" y="533.2" width="14.70" height="14.20" fill="none" stroke="#2b2620" stroke-width="1.1"/>
<line x1="515.5" y1="546.5" x2="527" y2="546.5" stroke="#2b2620" stroke-width="0.9"/>
<rect x="514" y="574.9" width="14.70" height="14.10" fill="none" stroke="#2b2620" stroke-width="1.1"/>
<line x1="515.5" y1="588.5" x2="527" y2="588.5" stroke="#2b2620" stroke-width="0.9"/>
<rect x="535" y="533.2" width="14.70" height="14.20" fill="none" stroke="#2b2620" stroke-width="1.1"/>
<line x1="536.5" y1="546.5" x2="548" y2="546.5" stroke="#2b2620" stroke-width="0.9"/>
<rect x="535" y="574.9" width="14.70" height="14.10" fill="none" stroke="#2b2620" stroke-width="1.1"/>
<line x1="536.5" y1="588.5" x2="548" y2="588.5" stroke="#2b2620" stroke-width="0.9"/>
<rect x="490.3" y="547.4" width="62.20" height="27.50" fill="#F6F0D4" stroke="#2b2620" stroke-width="1.1"/>
<text x="521.4" y="565.1" font-family="Liberation Sans, sans-serif" font-size="9.5" fill="#26221d" text-anchor="middle">餐厅</text>
<rect x="478" y="639" width="89.10" height="128.00" fill="none" stroke="#2b2620" stroke-width="1.2"/>
<rect x="480.5" y="641.5" width="84.10" height="123.00" fill="none" stroke="#5e584c" stroke-width="0.9"/>
<rect x="459.6" y="631" width="28.10" height="24.00" fill="#F6F0D4" stroke="#2b2620" stroke-width="1.1"/>
<circle cx="473.6" cy="643" r="8.2" fill="none" stroke="#2b2620" stroke-width="1.1"/><circle cx="473.6" cy="643" r="4.4" fill="none" stroke="#2b2620" stroke-width="1"/>
<line x1="461.5" y1="643.5" x2="485.5" y2="643.5" stroke="#2b2620" stroke-width="0.8"/>
<line x1="473.5" y1="632" x2="473.5" y2="654" stroke="#2b2620" stroke-width="0.8"/>
<rect x="459.6" y="751.5" width="28.10" height="23.70" fill="#F6F0D4" stroke="#2b2620" stroke-width="1.1"/>
<circle cx="473.6" cy="763.4" r="8.2" fill="none" stroke="#2b2620" stroke-width="1.1"/><circle cx="473.6" cy="763.4" r="4.4" fill="none" stroke="#2b2620" stroke-width="1"/>
<line x1="461.5" y1="763.5" x2="485.5" y2="763.5" stroke="#2b2620" stroke-width="0.8"/>
<line x1="473.5" y1="752.5" x2="473.5" y2="774" stroke="#2b2620" stroke-width="0.8"/>
<line x1="467.5" y1="655" x2="467.5" y2="661.3" stroke="#2b2620" stroke-width="0.9"/>
<line x1="469.5" y1="655" x2="469.5" y2="661.3" stroke="#2b2620" stroke-width="0.9"/>
<line x1="467.5" y1="745" x2="467.5" y2="751.5" stroke="#2b2620" stroke-width="0.9"/>
<line x1="469.5" y1="745" x2="469.5" y2="751.5" stroke="#2b2620" stroke-width="0.9"/>
<path d="M495.3,631 H549.5 V658 Q543,660.5 536,658.5 Q529,656.5 522.4,658.5 Q515,660.5 508,658.5 Q501,656.5 495.3,658z" fill="#F6F0D4" stroke="#2b2620" stroke-width="1.1"/>
<line x1="500.5" y1="631" x2="500.5" y2="657.5" stroke="#2b2620" stroke-width="1.0"/>
<line x1="543.5" y1="631" x2="543.5" y2="657.5" stroke="#2b2620" stroke-width="1.0"/>
<line x1="500.3" y1="636.5" x2="543.8" y2="636.5" stroke="#2b2620" stroke-width="1.0"/>
<line x1="500.3" y1="638.5" x2="543.8" y2="638.5" stroke="#2b2620" stroke-width="0.9"/>
<line x1="522.5" y1="631" x2="522.5" y2="658.2" stroke="#2b2620" stroke-width="1.0"/>
<path d="M460,661.3 H488 Q490.5,661.3 490.5,664 Q488.5,677 490.5,690.9 Q488.5,703 490.5,715.4 Q488.5,727 490.5,742 Q490.5,745 488,745 H460z" fill="#F6F0D4" stroke="#2b2620" stroke-width="1.1"/>
<line x1="460" y1="667.5" x2="490" y2="667.5" stroke="#2b2620" stroke-width="1.0"/>
<line x1="460" y1="738.5" x2="490" y2="738.5" stroke="#2b2620" stroke-width="1.0"/>
<line x1="465.5" y1="667" x2="465.5" y2="738.7" stroke="#2b2620" stroke-width="1.0"/>
<line x1="467.5" y1="667" x2="467.5" y2="738.7" stroke="#2b2620" stroke-width="0.9"/>
<line x1="465.7" y1="690.5" x2="490" y2="690.5" stroke="#2b2620" stroke-width="1.0"/>
<line x1="465.7" y1="715.5" x2="490" y2="715.5" stroke="#2b2620" stroke-width="1.0"/>
<rect x="505.4" y="682" width="40.30" height="40.30" fill="#F6F0D4" stroke="#2b2620" stroke-width="1.2"/>
<rect x="507.6" y="684.2" width="36.20" height="36.30" fill="none" stroke="#2b2620" stroke-width="1.0"/>
<text x="525" y="704.6" font-family="Liberation Sans, sans-serif" font-size="9.5" fill="#26221d" text-anchor="middle">客厅</text>
<path d="M509.8,753.4 Q507.8,760 508.5,766 Q511,775.5 523.8,775.5 Q537,775.5 542,766 Q542.8,760 541.8,753.4" fill="#F6F0D4" stroke="#2b2620" stroke-width="1.1"/>
<path d="M511.9,749 Q525.9,739.5 539.1,749 V765 Q538.6,769.3 535.5,769.3 H516 Q512.4,769.3 512.4,765 V749" fill="#F6F0D4" stroke="#2b2620" stroke-width="1.1"/>
<line x1="514" y1="767.5" x2="537" y2="767.5" stroke="#2b2620" stroke-width="0.9"/>
<circle cx="508.2" cy="751.3" r="2.7" fill="none" stroke="#2b2620" stroke-width="1"/><circle cx="542.3" cy="751.3" r="2.7" fill="none" stroke="#2b2620" stroke-width="1"/>
<polygon points="473.0,603.6 477.7,609.04 485.05,611.13 481.35,616.95 480.86,621.51 478.0,622.75 476.58,627.03 472.63,624.39 468.7,626.13 467.43,622.29 462.61,622.0 464.83,617.96 460.62,615.35 465.55,612.12 467.15,608.51 470.27,608.06" fill="#b8b098" stroke="#2a251f" stroke-width="1.4"/>
<ellipse cx="473.00" cy="611.33" rx="3.57" ry="1.50" transform="rotate(-90.0 473.00 611.33)" fill="#e9e2c6" stroke="#2a251f" stroke-width="0.7"/>
<ellipse cx="476.60" cy="613.48" rx="3.36" ry="1.50" transform="rotate(-35.0 476.60 613.48)" fill="#e9e2c6" stroke="#2a251f" stroke-width="0.7"/>
<ellipse cx="477.13" cy="617.50" rx="3.36" ry="1.50" transform="rotate(20.0 477.13 617.50)" fill="#e9e2c6" stroke="#2a251f" stroke-width="0.7"/>
<ellipse cx="473.76" cy="620.33" rx="3.36" ry="1.50" transform="rotate(80.0 473.76 620.33)" fill="#e9e2c6" stroke="#2a251f" stroke-width="0.7"/>
<ellipse cx="470.48" cy="619.60" rx="3.36" ry="1.50" transform="rotate(125.0 470.48 619.60)" fill="#e9e2c6" stroke="#2a251f" stroke-width="0.7"/>
<ellipse cx="468.34" cy="616.41" rx="3.57" ry="1.50" transform="rotate(175.0 468.34 616.41)" fill="#e9e2c6" stroke="#2a251f" stroke-width="0.7"/>
<ellipse cx="470.79" cy="612.85" rx="2.94" ry="1.50" transform="rotate(235.0 470.79 612.85)" fill="#e9e2c6" stroke="#2a251f" stroke-width="0.7"/>
<circle cx="473" cy="616" r="1.4" fill="#2a251f"/>
<polygon points="617.4,603.6 622.1,609.04 629.45,611.13 625.75,616.95 625.26,621.51 622.4,622.75 620.98,627.03 617.03,624.39 613.1,626.13 611.83,622.29 607.01,622.0 609.23,617.96 605.02,615.35 609.95,612.12 611.55,608.51 614.67,608.06" fill="#b8b098" stroke="#2a251f" stroke-width="1.4"/>
<ellipse cx="617.40" cy="611.33" rx="3.57" ry="1.50" transform="rotate(-90.0 617.40 611.33)" fill="#e9e2c6" stroke="#2a251f" stroke-width="0.7"/>
<ellipse cx="621.00" cy="613.48" rx="3.36" ry="1.50" transform="rotate(-35.0 621.00 613.48)" fill="#e9e2c6" stroke="#2a251f" stroke-width="0.7"/>
<ellipse cx="621.53" cy="617.50" rx="3.36" ry="1.50" transform="rotate(20.0 621.53 617.50)" fill="#e9e2c6" stroke="#2a251f" stroke-width="0.7"/>
<ellipse cx="618.16" cy="620.33" rx="3.36" ry="1.50" transform="rotate(80.0 618.16 620.33)" fill="#e9e2c6" stroke="#2a251f" stroke-width="0.7"/>
<ellipse cx="614.88" cy="619.60" rx="3.36" ry="1.50" transform="rotate(125.0 614.88 619.60)" fill="#e9e2c6" stroke="#2a251f" stroke-width="0.7"/>
<ellipse cx="612.74" cy="616.41" rx="3.57" ry="1.50" transform="rotate(175.0 612.74 616.41)" fill="#e9e2c6" stroke="#2a251f" stroke-width="0.7"/>
<ellipse cx="615.19" cy="612.85" rx="2.94" ry="1.50" transform="rotate(235.0 615.19 612.85)" fill="#e9e2c6" stroke="#2a251f" stroke-width="0.7"/>
<circle cx="617.4" cy="616" r="1.4" fill="#2a251f"/>
<polygon points="473.8,778.4 478.5,783.84 485.85,785.93 482.15,791.75 481.66,796.31 478.8,797.55 477.38,801.83 473.43,799.19 469.5,800.93 468.23,797.09 463.41,796.8 465.63,792.76 461.42,790.15 466.35,786.92 467.95,783.31 471.07,782.86" fill="#b8b098" stroke="#2a251f" stroke-width="1.4"/>
<ellipse cx="473.80" cy="786.12" rx="3.57" ry="1.50" transform="rotate(-90.0 473.80 786.12)" fill="#e9e2c6" stroke="#2a251f" stroke-width="0.7"/>
<ellipse cx="477.40" cy="788.28" rx="3.36" ry="1.50" transform="rotate(-35.0 477.40 788.28)" fill="#e9e2c6" stroke="#2a251f" stroke-width="0.7"/>
<ellipse cx="477.93" cy="792.30" rx="3.36" ry="1.50" transform="rotate(20.0 477.93 792.30)" fill="#e9e2c6" stroke="#2a251f" stroke-width="0.7"/>
<ellipse cx="474.56" cy="795.13" rx="3.36" ry="1.50" transform="rotate(80.0 474.56 795.13)" fill="#e9e2c6" stroke="#2a251f" stroke-width="0.7"/>
<ellipse cx="471.28" cy="794.40" rx="3.36" ry="1.50" transform="rotate(125.0 471.28 794.40)" fill="#e9e2c6" stroke="#2a251f" stroke-width="0.7"/>
<ellipse cx="469.14" cy="791.21" rx="3.57" ry="1.50" transform="rotate(175.0 469.14 791.21)" fill="#e9e2c6" stroke="#2a251f" stroke-width="0.7"/>
<ellipse cx="471.59" cy="787.65" rx="2.94" ry="1.50" transform="rotate(235.0 471.59 787.65)" fill="#e9e2c6" stroke="#2a251f" stroke-width="0.7"/>
<circle cx="473.8" cy="790.8" r="1.4" fill="#2a251f"/>
<rect x="611.4" y="651.4" width="14.90" height="15.40" fill="none" stroke="#2b2620" stroke-width="1.3"/>
<circle cx="618.8" cy="659" r="4" fill="none" stroke="#2b2620" stroke-width="1.5"/>
<line x1="611.5" y1="666.8" x2="611.5" y2="741" stroke="#2b2620" stroke-width="1.1"/>
<rect x="611.4" y="741" width="14.90" height="15.40" fill="none" stroke="#2b2620" stroke-width="1.3"/>
<circle cx="618.8" cy="748.7" r="4" fill="none" stroke="#2b2620" stroke-width="1.5"/>
<rect x="620.3" y="680" width="5.20" height="51.00" fill="none" stroke="#2b2620" stroke-width="0.9"/>
<rect x="457.3" y="821.7" width="24.40" height="24.30" fill="none" stroke="#2b2620" stroke-width="1.1"/>
<line x1="459" y1="842.5" x2="478" y2="842.5" stroke="#5e584c" stroke-width="1.2"/>
<text x="542.2" y="839.7" font-family="Liberation Sans, sans-serif" font-size="9.5" fill="#26221d" text-anchor="middle">阳台</text>
<path d="M523.60,849 H515.00 Q508.10,849 508.10,856 V863 Q508.10,870.9 515.00,870.9 H523.60 Q529.50,866 529.50,860 Q529.50,853 523.60,849z" fill="none" stroke="#2b2620" stroke-width="1.1"/>
<path d="M526.50,851.4 H514.00 Q512.20,851.4 512.20,853.5 V865.5 Q512.20,867.6 514.00,867.6 H526.50" fill="none" stroke="#2b2620" stroke-width="1.2"/>
<circle cx="523.60" cy="849.2" r="1.8" fill="#F6F0D4" stroke="#2b2620" stroke-width="1"/><circle cx="523.60" cy="870.5" r="1.8" fill="#F6F0D4" stroke="#2b2620" stroke-width="1"/>
<path d="M557.30,849 H565.90 Q572.80,849 572.80,856 V863 Q572.80,870.9 565.90,870.9 H557.30 Q551.40,866 551.40,860 Q551.40,853 557.30,849z" fill="none" stroke="#2b2620" stroke-width="1.1"/>
<path d="M554.40,851.4 H566.90 Q568.70,851.4 568.70,853.5 V865.5 Q568.70,867.6 566.90,867.6 H554.40" fill="none" stroke="#2b2620" stroke-width="1.2"/>
<circle cx="557.30" cy="849.2" r="1.8" fill="#F6F0D4" stroke="#2b2620" stroke-width="1"/><circle cx="557.30" cy="870.5" r="1.8" fill="#F6F0D4" stroke="#2b2620" stroke-width="1"/>
<rect x="532.1" y="855" width="16.70" height="11.40" fill="none" stroke="#2b2620" stroke-width="1.2"/>
<polygon points="611.0,819.6 615.7,825.04 623.05,827.13 619.35,832.95 618.86,837.51 616.0,838.75 614.58,843.03 610.63,840.39 606.7,842.13 605.43,838.29 600.61,838.0 602.83,833.96 598.62,831.35 603.55,828.12 605.15,824.51 608.27,824.06" fill="#b8b098" stroke="#2a251f" stroke-width="1.4"/>
<ellipse cx="611.00" cy="827.33" rx="3.57" ry="1.50" transform="rotate(-90.0 611.00 827.33)" fill="#e9e2c6" stroke="#2a251f" stroke-width="0.7"/>
<ellipse cx="614.60" cy="829.48" rx="3.36" ry="1.50" transform="rotate(-35.0 614.60 829.48)" fill="#e9e2c6" stroke="#2a251f" stroke-width="0.7"/>
<ellipse cx="615.13" cy="833.50" rx="3.36" ry="1.50" transform="rotate(20.0 615.13 833.50)" fill="#e9e2c6" stroke="#2a251f" stroke-width="0.7"/>
<ellipse cx="611.76" cy="836.33" rx="3.36" ry="1.50" transform="rotate(80.0 611.76 836.33)" fill="#e9e2c6" stroke="#2a251f" stroke-width="0.7"/>
<ellipse cx="608.48" cy="835.60" rx="3.36" ry="1.50" transform="rotate(125.0 608.48 835.60)" fill="#e9e2c6" stroke="#2a251f" stroke-width="0.7"/>
<ellipse cx="606.34" cy="832.41" rx="3.57" ry="1.50" transform="rotate(175.0 606.34 832.41)" fill="#e9e2c6" stroke="#2a251f" stroke-width="0.7"/>
<ellipse cx="608.79" cy="828.85" rx="2.94" ry="1.50" transform="rotate(235.0 608.79 828.85)" fill="#e9e2c6" stroke="#2a251f" stroke-width="0.7"/>
<circle cx="611" cy="832" r="1.4" fill="#2a251f"/>
</svg></body></html>
